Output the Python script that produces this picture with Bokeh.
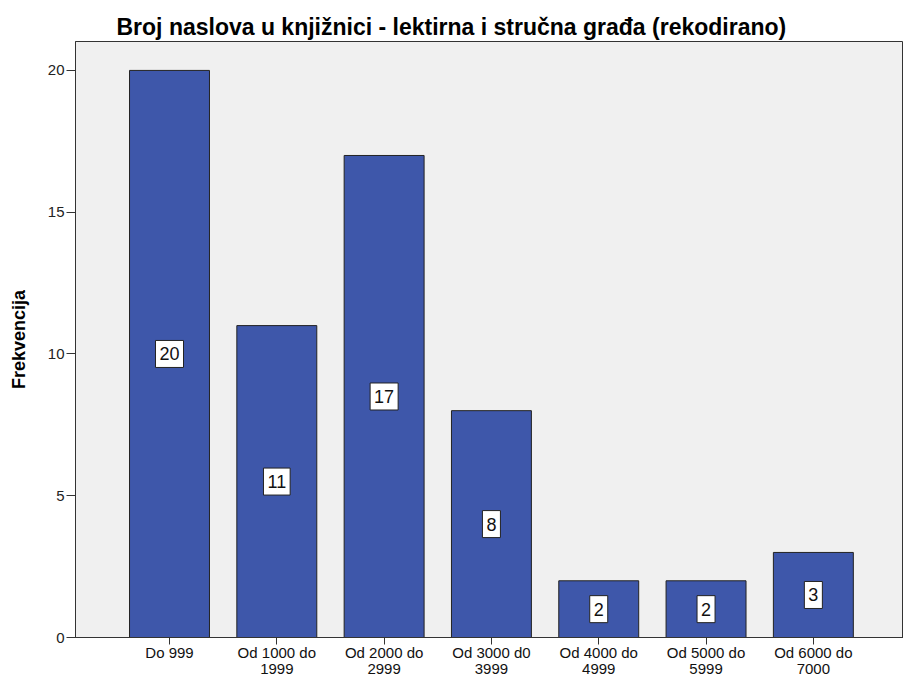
from bokeh.plotting import figure
from bokeh.models import ColumnDataSource, Range1d, FixedTicker
from bokeh.core.properties import value
from bokeh.embed import file_html
from bokeh.resources import INLINE

categories = ["Do 999", "Od 1000 do\n1999", "Od 2000 do\n2999", "Od 3000 d0\n3999",
              "Od 4000 do\n4999", "Od 5000 do\n5999", "Od 6000 do\n7000"]
counts = [20, 11, 17, 8, 2, 2, 3]
y_ticks = [0, 5, 10, 15, 20]

xs = list(range(len(categories)))
src = ColumnDataSource(dict(
    x=xs, top=counts, mid=[c / 2 for c in counts], lab=[str(c) for c in counts]))

p = figure(width=903, height=679, output_backend="svg", toolbar_location=None,
           x_range=Range1d(-0.876, 6.84), y_range=Range1d(0, 21.02),
           min_border_left=75, min_border_right=0, min_border_top=41, min_border_bottom=41)

p.title.text = "Broj naslova u knjižnici - lektirna i stručna građa (rekodirano)"
p.title.text_font = "Liberation Sans"
p.title.text_font_size = "23px"
p.title.text_font_style = "bold"
p.title.align = "left"
p.title.offset = 41
p.title.text_color = "#000000"
p.title.standoff = 4

p.background_fill_color = "#F0F0F0"
p.border_fill_color = "white"
p.outline_line_color = "#333333"
p.outline_line_width = 1
p.grid.visible = False

p.vbar(x="x", top="top", bottom=0, width=0.745, source=src,
       fill_color="#3E57AA", line_color="#222222", line_width=1)

p.text(x="x", y="mid", text="lab", source=src, text_align="center", text_baseline="middle",
       text_font=value("Liberation Sans"), text_font_size="18px", text_color="#111111",
       background_fill_color="white", border_line_color="#222222", border_line_width=1,
       padding=(4, 7))

p.xaxis.ticker = FixedTicker(ticks=xs)
p.xaxis.major_label_overrides = {i: c for i, c in enumerate(categories)}
p.xaxis.minor_tick_line_color = None
p.xaxis.major_tick_out = 7
p.xaxis.major_tick_in = 0
p.xaxis.major_label_text_font = "Liberation Sans"
p.xaxis.major_label_text_font_size = "15px"
p.xaxis.major_label_text_color = "#111111"
p.xaxis.major_label_standoff = -1
p.xaxis.major_label_text_line_height = 0.95
p.xaxis.axis_line_color = "#333333"
p.xaxis.major_tick_line_color = "#333333"

p.yaxis.ticker = FixedTicker(ticks=y_ticks)
p.yaxis.minor_tick_line_color = None
p.yaxis.major_tick_out = 9
p.yaxis.major_tick_in = 0
p.yaxis.major_label_text_font = "Liberation Sans"
p.yaxis.major_label_text_font_size = "15px"
p.yaxis.major_label_text_color = "#222222"
p.yaxis.major_label_standoff = 2
p.yaxis.axis_line_color = "#333333"
p.yaxis.major_tick_line_color = "#333333"
p.yaxis.axis_label = "Frekvencija"
p.yaxis.axis_label_text_font = "Liberation Sans"
p.yaxis.axis_label_text_font_size = "18px"
p.yaxis.axis_label_text_font_style = "bold"
p.yaxis.axis_label_text_color = "#000000"
p.yaxis.axis_label_standoff = 16

open("out.html", "w").write(file_html(p, INLINE))
